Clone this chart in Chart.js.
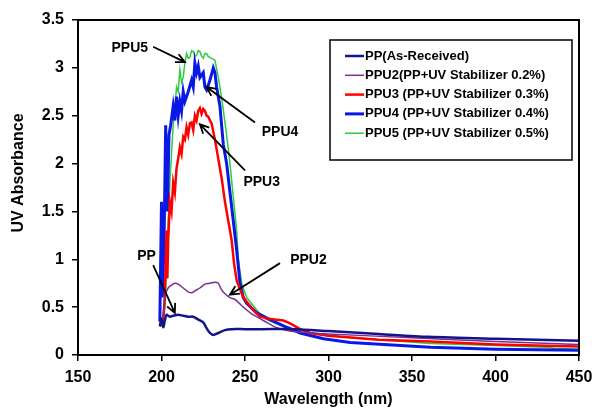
<!DOCTYPE html>
<html>
<head>
<meta charset="utf-8">
<script src="https://cdn.jsdelivr.net/npm/chart.js@4.4.0/dist/chart.umd.min.js"></script>
<style>
    html, body { margin: 0; padding: 0; background: #fff; }
</style>
</head>
<body>
<canvas id="graf" width="594" height="410"></canvas>
<script>
// valores (comprimento de onda em nm, absorbância)
const ppX = [199, 200, 201, 202, 203, 205, 207, 210, 213, 216, 219, 222, 225, 227, 229, 231, 234, 238, 242, 250, 260, 280, 300, 330, 360, 400, 450];
const ppY = [0.30, 0.38, 0.29, 0.36, 0.42, 0.40, 0.41, 0.42, 0.41, 0.40, 0.40, 0.37, 0.34, 0.28, 0.23, 0.21, 0.23, 0.26, 0.27, 0.27, 0.27, 0.27, 0.25, 0.22, 0.19, 0.17, 0.15];

const ppu2X = [199, 200, 201, 202, 204, 206, 208, 210, 213, 216, 218, 220, 223, 226, 229, 232, 234, 236, 238, 241, 244, 246, 249, 251, 254, 257, 262, 266, 270, 277, 290, 300, 350, 400, 450];
const ppu2Y = [0.30, 0.35, 0.42, 0.62, 0.70, 0.73, 0.75, 0.74, 0.70, 0.66, 0.65, 0.67, 0.70, 0.74, 0.75, 0.76, 0.75, 0.68, 0.64, 0.60, 0.58, 0.55, 0.50, 0.47, 0.43, 0.40, 0.35, 0.31, 0.28, 0.25, 0.23, 0.22, 0.18, 0.14, 0.11];

const ppu3X = [199, 201, 202, 203, 203.5, 204, 205, 206, 207, 208, 209, 210, 211, 212, 213, 214, 215, 216, 217, 218, 219, 220, 221, 222, 223, 224, 225, 226, 227, 228, 229, 230, 232, 234, 236, 238, 240, 242, 243.5, 245, 249, 255, 259, 264, 268, 273, 277, 283, 289, 300, 330, 361, 400, 450];
const ppu3Y = [0.30, 0.35, 0.6, 1.3, 0.8, 1.2, 1.6, 1.5, 1.8, 1.7, 1.95, 2.05, 2.17, 2.10, 2.28, 2.25, 2.38, 2.30, 2.42, 2.43, 2.35, 2.50, 2.45, 2.55, 2.58, 2.52, 2.57, 2.55, 2.50, 2.49, 2.45, 2.42, 2.25, 2.05, 1.85, 1.60, 1.40, 1.20, 0.95, 0.78, 0.60, 0.47, 0.40, 0.38, 0.37, 0.36, 0.33, 0.27, 0.23, 0.20, 0.16, 0.14, 0.11, 0.09];

const ppu4X = [199, 200, 200.5, 201.5, 202.5, 203.5, 204.5, 205.5, 207, 208, 209, 210, 211, 212, 213, 214, 216, 218, 219, 220, 221, 222, 223, 225, 226, 227, 229, 231, 232, 233, 235, 236, 237, 239, 241, 243, 245, 247, 249, 251, 257, 265, 275, 283, 297, 313, 361, 400, 450];
const ppu4Y = [0.35, 1.60, 0.60, 1.15, 2.40, 1.50, 2.30, 2.40, 2.60, 2.45, 2.70, 2.50, 2.65, 2.55, 2.75, 2.65, 2.75, 2.87, 2.80, 3.05, 2.95, 3.02, 2.90, 2.95, 2.80, 2.77, 2.87, 3.00, 2.95, 2.80, 2.60, 2.40, 2.20, 2.00, 1.70, 1.40, 1.10, 0.75, 0.60, 0.54, 0.44, 0.37, 0.29, 0.23, 0.17, 0.13, 0.08, 0.06, 0.05];

const ppu5X = [200, 202, 203, 204, 205, 206, 207, 208, 209, 210, 211, 212, 213, 214, 215, 216, 217, 218, 219, 220, 221, 222, 223, 224, 225, 226, 227, 228, 229, 230, 232, 234, 235, 237, 239, 241, 243, 245, 246, 248, 251, 257, 262, 268, 275, 285, 300, 330, 361, 400, 430, 435, 450];
const ppu5Y = [0.35, 0.50, 0.90, 1.40, 1.80, 2.10, 2.40, 2.56, 2.80, 2.75, 2.98, 2.85, 2.90, 3.05, 3.15, 3.10, 3.11, 3.18, 3.17, 3.12, 3.13, 3.18, 3.17, 3.12, 3.10, 3.15, 3.15, 3.12, 3.11, 3.10, 3.08, 2.90, 2.80, 2.56, 2.30, 2.00, 1.65, 1.30, 1.00, 0.75, 0.60, 0.47, 0.38, 0.33, 0.28, 0.24, 0.20, 0.16, 0.12, 0.10, 0.08, 0.07, 0.06];

const seriesNames = ['PP(As-Received)', 'PPU2(PP+UV Stabilizer 0.2%)', 'PPU3 (PP+UV Stabilizer 0.3%)', 'PPU4 (PP+UV Stabilizer 0.4%)', 'PPU5 (PP+UV Stabilizer 0.5%)'];
const xTicks = [150, 200, 250, 300, 350, 400, 450];
const yTicks = [0, 0.5, 1, 1.5, 2, 2.5, 3, 3.5];

// rótulos com setas: texto, posição do texto, início e ponta da seta (em unidades dos eixos)
const notas = [
    { text: 'PPU5', at: [181, 3.21], from: [195, 3.22], to: [214, 3.06] },
    { text: 'PPU4', at: [271, 2.33], from: [256, 2.43], to: [227, 2.80] },
    { text: 'PPU3', at: [260, 1.81], from: [250, 1.93], to: [223, 2.41] },
    { text: 'PPU2', at: [288, 0.99], from: [271, 0.96], to: [241, 0.63] },
    { text: 'PP',   at: [191, 1.03], from: [195, 0.94], to: [208, 0.44] }
];

const cores = ['#14148a', '#7b2f8f', '#ff0000', '#0a18e6', '#2ecc40'];
const larguras = [2.5, 1.5, 2.5, 3, 1.5];

function pares(xs, ys) {
    return xs.map((v, i) => ({ x: v, y: ys[i] }));
}

const FONTE = '"Liberation Sans", Arial, sans-serif';

const extras = {
    id: 'extras',
    afterDraw(chart) {
        const ctx = chart.ctx;
        const a = chart.chartArea;
        const sx = chart.scales.x, sy = chart.scales.y;
        ctx.save();

        // moldura
        ctx.strokeStyle = '#000';
        ctx.lineWidth = 2;
        ctx.strokeRect(a.left, a.top, a.right - a.left, a.bottom - a.top);

        // títulos dos eixos
        ctx.fillStyle = '#000';
        ctx.font = 'bold 16px ' + FONTE;
        ctx.textAlign = 'center';
        ctx.textBaseline = 'middle';
        ctx.fillText('Wavelength (nm)', (a.left + a.right) / 2, 400);
        ctx.save();
        ctx.translate(19, 173);
        ctx.rotate(-Math.PI / 2);
        ctx.fillText('UV Absorbance', 0, 0);
        ctx.restore();

        // setas e rótulos
        ctx.font = 'bold 14px ' + FONTE;
        ctx.lineWidth = 1.8;
        notas.forEach(n => {
            const x0 = sx.getPixelForValue(n.from[0]), y0 = sy.getPixelForValue(n.from[1]);
            const x1 = sx.getPixelForValue(n.to[0]), y1 = sy.getPixelForValue(n.to[1]);
            ctx.beginPath();
            ctx.moveTo(x0, y0);
            ctx.lineTo(x1, y1);
            const ang = Math.atan2(y1 - y0, x1 - x0);
            const L = 10;
            ctx.moveTo(x1 - L * Math.cos(ang - 0.45), y1 - L * Math.sin(ang - 0.45));
            ctx.lineTo(x1, y1);
            ctx.lineTo(x1 - L * Math.cos(ang + 0.45), y1 - L * Math.sin(ang + 0.45));
            ctx.stroke();
            ctx.fillText(n.text, sx.getPixelForValue(n.at[0]), sy.getPixelForValue(n.at[1]));
        });

        // legenda com caixa
        ctx.lineWidth = 1.5;
        ctx.strokeRect(330, 40, 242, 120);
        ctx.font = 'bold 13px ' + FONTE;
        ctx.textAlign = 'left';
        chart.data.datasets.forEach((ds, i) => {
            const yy = 56 + i * 19.3;
            ctx.strokeStyle = ds.borderColor;
            ctx.lineWidth = ds.borderWidth;
            ctx.beginPath();
            ctx.moveTo(345, yy);
            ctx.lineTo(364, yy);
            ctx.stroke();
            ctx.fillStyle = '#000';
            ctx.fillText(ds.label, 365, yy);
        });
        ctx.restore();
    }
};

const ctx = document.getElementById('graf').getContext('2d');
const todas = [[ppX, ppY], [ppu2X, ppu2Y], [ppu3X, ppu3Y], [ppu4X, ppu4Y], [ppu5X, ppu5Y]];

new Chart(ctx, {
    type: 'line',
    data: {
        datasets: todas.map((s, i) => ({
            label: seriesNames[i],
            data: pares(s[0], s[1]),
            borderColor: cores[i],
            borderWidth: larguras[i],
            pointRadius: 0,
            tension: (i < 2) ? 0.3 : 0,
            fill: false
        }))
    },
    options: {
        responsive: false,
        animation: false,
        layout: { padding: { left: 0, right: 15, top: 20, bottom: 0 } },
        plugins: {
            legend: { display: false },
            tooltip: { enabled: false }
        },
        scales: {
            x: {
                type: 'linear',
                min: 150,
                max: 450,
                afterBuildTicks: s => { s.ticks = xTicks.map(v => ({ value: v })); },
                afterFit: s => { s.height = 55; s.paddingLeft = 0; s.paddingRight = 0; },
                grid: { drawOnChartArea: false, drawTicks: true, tickLength: 6, color: '#000', lineWidth: 1.5 },
                border: { display: false },
                ticks: {
                    color: '#000',
                    padding: 7,
                    font: { family: FONTE, size: 16, weight: 'bold' },
                    maxRotation: 0,
                    callback: v => String(v)
                }
            },
            y: {
                min: 0,
                max: 3.5,
                afterBuildTicks: s => { s.ticks = yTicks.map(v => ({ value: v })); },
                afterFit: s => { s.width = 78; s.paddingTop = 0; s.paddingBottom = 0; },
                grid: { drawOnChartArea: false, drawTicks: true, tickLength: 6, color: '#000', lineWidth: 1.5 },
                border: { display: false },
                ticks: {
                    color: '#000',
                    padding: 8,
                    font: { family: FONTE, size: 16, weight: 'bold' },
                    callback: v => String(v)
                }
            }
        }
    },
    plugins: [extras]
});
</script>
</body>
</html>
